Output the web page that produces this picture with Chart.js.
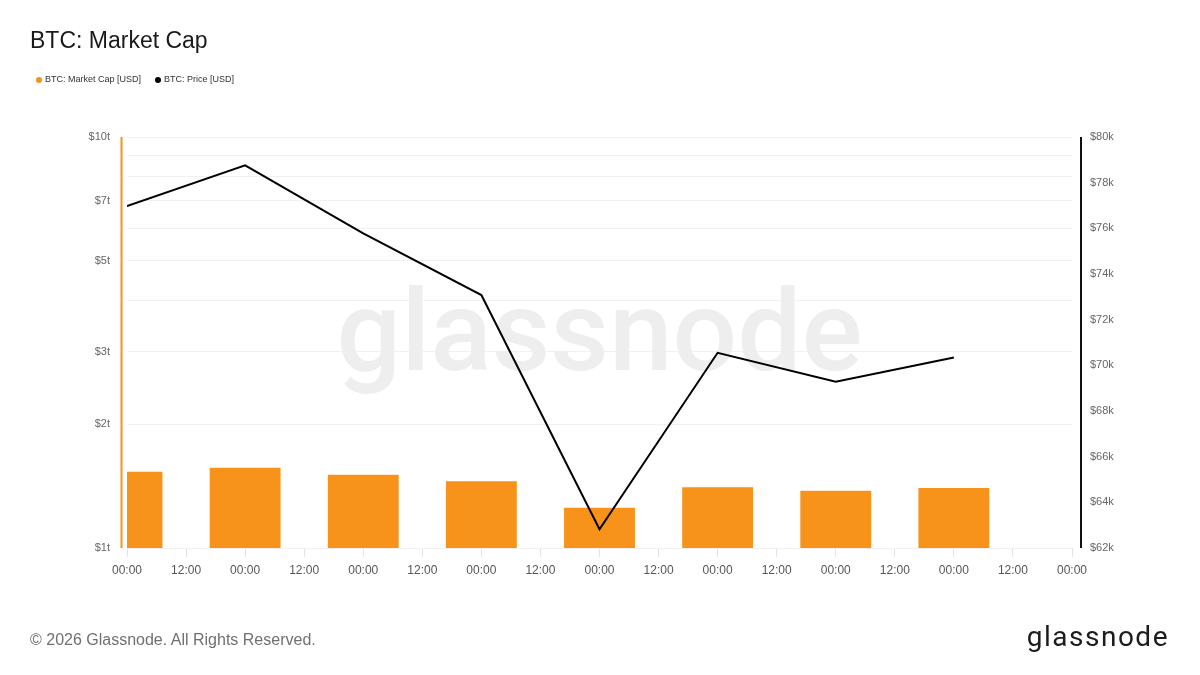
<!DOCTYPE html>
<html>
<head>
<meta charset="utf-8">
<title>BTC: Market Cap</title>
<script src="https://cdn.jsdelivr.net/npm/chart.js@4.4.1/dist/chart.umd.min.js"></script>
<style>
  html, body { margin: 0; padding: 0; background: #ffffff; }
  #wrap { position: relative; width: 1200px; height: 675px; overflow: hidden;
          font-family: "Liberation Sans", Arial, Helvetica, sans-serif; }
  #c { position: absolute; left: 0; top: 0; }
  #title { position: absolute; left: 30px; top: 29px; font-size: 23px; line-height: 23px;
           color: #1a1a1a; white-space: nowrap; }
  #legend { position: absolute; left: 36px; top: 75px; height: 9px; display: flex;
            align-items: center; font-size: 9px; line-height: 9px; color: #333; white-space: nowrap; }
  .li { display: flex; align-items: center; margin-right: 14px; }
  .dot { width: 6px; height: 6px; border-radius: 50%; margin-right: 3px; }
  #footer { position: absolute; left: 30px; top: 632px; font-size: 16px; line-height: 16px;
            color: #707070; white-space: nowrap; }
  #logo { position: absolute; right: 31px; top: 623px; font-family: Roboto, "Liberation Sans", sans-serif;
          font-size: 28px; line-height: 28px; letter-spacing: 1.5px; color: #1c1c1c; white-space: nowrap; }
</style>
</head>
<body>
<div id="wrap">
  <canvas id="c" width="1200" height="675"></canvas>
  <div id="title">BTC: Market Cap</div>
  <div id="legend"></div>
  <div id="footer">© 2026 Glassnode. All Rights Reserved.</div>
  <div id="logo">glassnode</div>
</div>
<script>
// ---- Data ----
const xHours      = [0, 24, 48, 72, 96, 120, 144, 168];          // hours since first 00:00
const marketCapT  = [1.534, 1.568, 1.508, 1.453, 1.253, 1.405, 1.379, 1.400]; // trillion USD
const priceK      = [76.98, 78.76, 75.78, 73.08, 62.82, 70.55, 69.28, 70.34]; // thousand USD
const seriesNames = ['BTC: Market Cap [USD]', 'BTC: Price [USD]'];
const xTickLabels = ['00:00', '12:00'];
const leftGridValues = [1, 2, 3, 4, 5, 6, 7, 8, 9, 10];
const leftTickValues = [1, 2, 3, 5, 7, 10];
const leftTickLabels = ['$1t', '$2t', '$3t', '$5t', '$7t', '$10t'];
const rightTickValues = [62, 64, 66, 68, 70, 72, 74, 76, 78, 80];
const rightTickLabels = ['$62k', '$64k', '$66k', '$68k', '$70k', '$72k', '$74k', '$76k', '$78k', '$80k'];

const ORANGE = '#f7931a';
const BLACK = '#000000';

const mcPoints = xHours.map((h, i) => ({ x: h, y: marketCapT[i] }));
const pricePoints = xHours.map((h, i) => ({ x: h, y: priceK[i] }));

const watermark = {
  id: 'watermark',
  beforeDatasetsDraw(chart) {
    const { ctx, chartArea: a } = chart;
    ctx.save();
    ctx.font = '500 114px Roboto, "Liberation Sans", sans-serif';
    ctx.fillStyle = '#eeeeee';
    ctx.textAlign = 'center';
    ctx.textBaseline = 'alphabetic';
    ctx.fillText('glassnode', (a.left + a.right) / 2, 370);
    ctx.restore();
  }
};

const axisLines = {
  id: 'axisLines',
  afterDraw(chart) {
    const { ctx, chartArea: a } = chart;
    ctx.save();
    ctx.lineWidth = 2;
    ctx.strokeStyle = ORANGE;
    ctx.beginPath();
    ctx.moveTo(a.left - 5.5, a.top);
    ctx.lineTo(a.left - 5.5, a.bottom);
    ctx.stroke();
    ctx.strokeStyle = '#111';
    ctx.beginPath();
    ctx.moveTo(a.right + 9, a.top);
    ctx.lineTo(a.right + 9, a.bottom);
    ctx.stroke();
    ctx.restore();
  }
};

const PAD_L = 60, PAD_R = 60, PAD_T = 137, X_H = 50;
const chart = new Chart(document.getElementById('c'), {
  data: {
    datasets: [
      {
        type: 'bar',
        label: seriesNames[0],
        data: mcPoints,
        yAxisID: 'y',
        backgroundColor: ORANGE,
        borderWidth: 0,
        barPercentage: 1.2,
        categoryPercentage: 1.0,
        order: 1
      },
      {
        type: 'line',
        label: seriesNames[1],
        data: pricePoints,
        yAxisID: 'y1',
        borderColor: BLACK,
        backgroundColor: BLACK,
        borderWidth: 2,
        pointRadius: 0,
        tension: 0,
        order: 0
      }
    ]
  },
  options: {
    responsive: false,
    animation: false,
    devicePixelRatio: 1,
    layout: { padding: { left: PAD_L, right: PAD_R, top: PAD_T, bottom: 675 - 548 - X_H } },
    plugins: { legend: { display: false }, tooltip: { enabled: false }, title: { display: false } },
    scales: {
      x: {
        type: 'linear',
        min: 0,
        max: 192,
        offset: false,
        border: { display: false },
        grid: { display: true, offset: false, drawOnChartArea: false, drawTicks: true, tickLength: 9, color: '#e4e4e4' },
        ticks: {
          stepSize: 12, autoSkip: false, maxRotation: 0, padding: 6,
          color: '#555', font: { size: 12, family: '"Liberation Sans", Arial, sans-serif' },
          callback: (v) => xTickLabels[Math.round(v / 12) % 2]
        },
        afterFit(s) { s.height = X_H; }
      },
      y: {
        type: 'logarithmic',
        position: 'left',
        min: 1,
        max: 10,
        border: { display: false },
        grid: { color: '#f1f1f1', drawTicks: false },
        afterBuildTicks(s) { s.ticks = leftGridValues.map(v => ({ value: v })); },
        ticks: {
          autoSkip: false, padding: 17, color: '#666',
          font: { size: 11, family: '"Liberation Sans", Arial, sans-serif' },
          callback: (v) => {
            const i = leftTickValues.findIndex(t => Math.abs(t - v) < 1e-9);
            return i >= 0 ? leftTickLabels[i] : '';
          }
        },
        afterFit(s) { s.width = 127 - PAD_L; }
      },
      y1: {
        type: 'linear',
        position: 'right',
        min: rightTickValues[0],
        max: rightTickValues[rightTickValues.length - 1],
        border: { display: false },
        grid: { drawOnChartArea: false, drawTicks: false },
        ticks: {
          stepSize: 2, autoSkip: false, padding: 18, color: '#666',
          font: { size: 11, family: '"Liberation Sans", Arial, sans-serif' },
          callback: (v) => {
            const i = rightTickValues.indexOf(v);
            return i >= 0 ? rightTickLabels[i] : '';
          }
        },
        afterFit(s) { s.width = 1200 - PAD_R - 1072; }
      }
    }
  },
  plugins: [watermark, axisLines]
});

// HTML legend built from the chart's datasets
const legendEl = document.getElementById('legend');
chart.data.datasets.forEach(ds => {
  const item = document.createElement('div');
  item.className = 'li';
  const dot = document.createElement('span');
  dot.className = 'dot';
  dot.style.background = ds.type === 'bar' ? ds.backgroundColor : ds.borderColor;
  const txt = document.createElement('span');
  txt.textContent = ds.label;
  item.appendChild(dot);
  item.appendChild(txt);
  legendEl.appendChild(item);
});
</script>
</body>
</html>
